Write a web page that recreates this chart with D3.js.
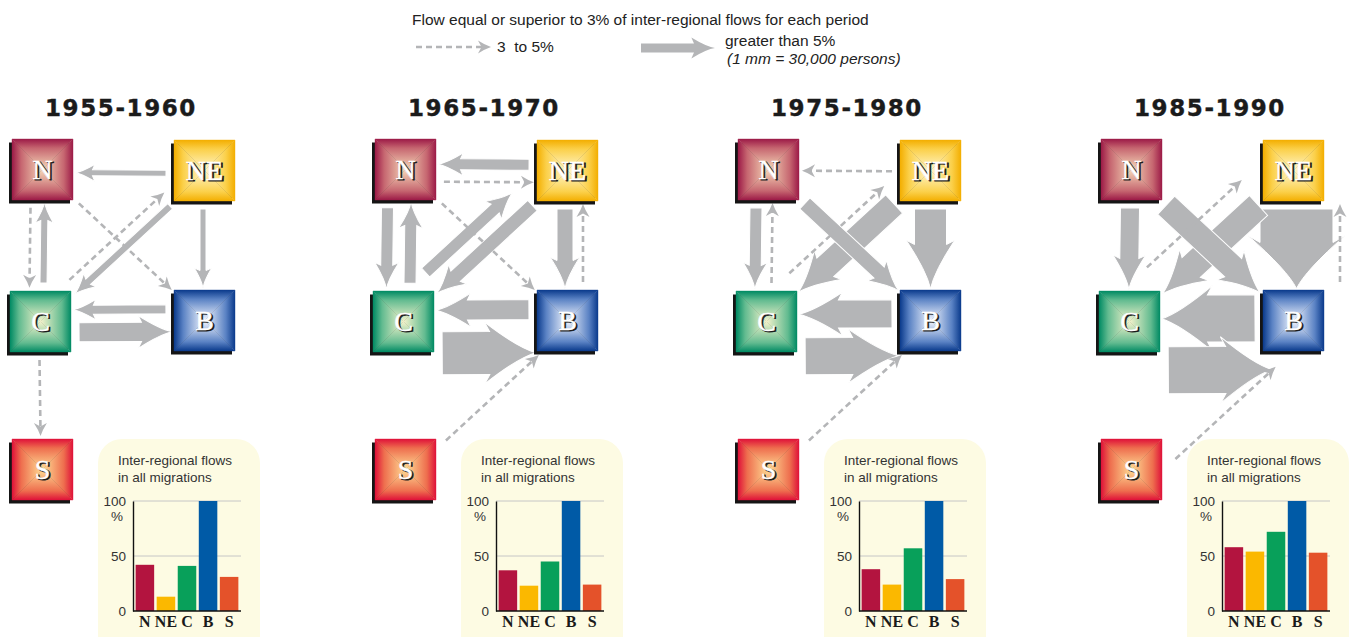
<!DOCTYPE html>
<html><head><meta charset="utf-8">
<script src="https://cdn.jsdelivr.net/npm/d3@7"></script>
<style>body{margin:0;background:#fff}svg{display:block}</style>
</head><body>
<svg id="chart" width="1353" height="637"></svg>
<script>
// ---------- DATA ----------
const regions = ["N", "NE", "C", "B", "S"];
const periods = ["1955-1960", "1965-1970", "1975-1980", "1985-1990"];
const barCategories = ["N", "NE", "C", "B", "S"];
// share of inter-regional flows in all migrations (%), by region
const share1955 = [42, 13, 41, 100, 31];
const share1965 = [37, 23, 45, 100, 24];
const share1975 = [38, 24, 57, 100, 29];
const share1985 = [58, 54, 72, 100, 53];
const yTickValues = [0, 50, 100];
// flows: [origin, destination, thousands of persons]  (null = flow of 3 to 5%)
const flows1955 = [["NE","N",75],["N","C",null],["C","N",88],["N","B",null],["C","NE",null],["NE","C",88],["NE","B",75],["B","C",112],["C","B",238],["C","S",null]];
const flows1965 = [["NE","N",138],["N","NE",null],["N","C",150],["C","N",150],["N","B",null],["C","NE",150],["NE","C",175],["NE","B",200],["B","NE",null],["B","C",250],["C","B",538],["S","B",null]];
const flows1975 = [["NE","N",null],["N","C",150],["C","N",null],["N","B",188],["C","NE",null],["NE","C",312],["NE","B",400],["B","C",350],["C","B",462],["S","B",null]];
const flows1985 = [["N","C",238],["C","NE",null],["N","B",312],["NE","C",338],["NE","B",912],["B","NE",null],["B","C",588],["C","B",588],["S","B",null]];
const legendTitle = "Flow equal or superior to 3% of inter-regional flows for each period";
const legendMinor = "3  to 5%";
const legendMajor = "greater than 5%";
const legendScale = "(1 mm = 30,000 persons)";
const insetTitle = ["Inter-regional flows", "in all migrations"];

const sharesByPeriod = [share1955, share1965, share1975, share1985];
const flowsByPeriod = [flows1955, flows1965, flows1975, flows1985];

// ---------- LAYOUT ----------
const svg = d3.select("#chart");
const arrowGray = "#b4b5b7";
const boxSize = 61;
const boxPos = {N:[12,139], NE:[174,140], C:[10,291], B:[174,290], S:[12,439]};
const boxColors = {
  N:["#9c1a47","#c66670","#f5d8b8"],
  NE:["#f3ae00","#fbd04a","#fff7cf"],
  C:["#008a63","#62bb90","#f4f3cc"],
  B:["#0a3a8c","#5a82c4","#f5f8ff"],
  S:["#df1139","#ee6e4e","#ffdd95"]
};
const barColors = {N:"#b3143f", NE:"#fbb800", C:"#08a05a", B:"#005aa6", S:"#e4522a"};
// lane: perpendicular shift of each arrow; [lane, tip extension, tail extension]
const laneLayout = [
  {"NE>N":[3],"N>C":[11.5],"C>N":[-2.5],"N>B":[0],"C>NE":[11],"NE>C":[-3],"NE>B":[1.5],"B>C":[-11.5],"C>B":[11],"C>S":[1.5]},
  {"NE>N":[-5.5],"N>NE":[12],"N>C":[17.5],"C>N":[-6],"N>B":[0],"C>NE":[21,-12],"NE>C":[-2],"NE>B":[2.5],"B>NE":[-15.5],"B>C":[-11],"C>B":[32],"S>B":[-6]},
  {"NE>N":[1],"N>C":[12],"C>N":[-4.5],"N>B":[0],"C>NE":[20],"NE>C":[0],"NE>B":[0],"B>C":[-7],"C>B":[35],"S>B":[-6]},
  {"N>C":[1],"C>NE":[28],"N>B":[2.5],"NE>C":[-2],"NE>B":[-3],"B>NE":[-46.5],"B>C":[-2.5],"C>B":[49,10],"S>B":[-22,0,10]}
];
const panelX = d3.scaleBand().domain(periods).range([0, 363 * periods.length]);
// 1 mm = 30,000 persons ; 1 mm drawn as 2.4 px
const widthScale = d3.scaleLinear().domain([0, 30]).range([0, 2.4]);

const sans = "'Liberation Sans', Arial, Helvetica, sans-serif";
const serif = "'Liberation Serif', 'Times New Roman', serif";

const defs = svg.append("defs");
const gradDirs = {top:[0,0,0,1], bottom:[0,1,0,0], left:[0,0,1,0], right:[1,0,0,0]};
regions.forEach(r => Object.entries(gradDirs).forEach(([k, v]) => {
  const g = defs.append("linearGradient").attr("id", `g-${r}-${k}`)
    .attr("x1", v[0]).attr("y1", v[1]).attr("x2", v[2]).attr("y2", v[3]);
  const c = boxColors[r];
  g.append("stop").attr("offset", "0%").attr("stop-color", c[0]);
  g.append("stop").attr("offset", "30%").attr("stop-color", c[1]);
  g.append("stop").attr("offset", "100%").attr("stop-color", c[2]);
}));

function majorPath(L, w) {
  const h = Math.min(12 + w, 46, L * 0.6);
  const b = 5 + w * 0.1, s = 2 + w * 0.07, hw = w / 2;
  return `M0,${-hw} L${L-h},${-hw} L${L-h-s},${-hw-b} Q${L-h*0.4},${-hw*0.25} ${L},0 ` +
         `Q${L-h*0.4},${hw*0.25} ${L-h-s},${hw+b} L${L-h},${hw} L0,${hw} Z`;
}
function minorHead(L) {
  return `M${L},0 Q${L-6},-2 ${L-13},-6.5 L${L-9.5},0 L${L-13},6.5 Q${L-6},2 ${L},0 Z`;
}
function center(r) { const p = boxPos[r]; return [p[0] + boxSize/2, p[1] + boxSize/2]; }
function geom(from, to, cfg, minor) {
  const [lane, tipExt = 0, tailExt = 0] = cfg;
  const a = center(from), b = center(to);
  const fwd = regions.indexOf(from) < regions.indexOf(to);
  const c0 = fwd ? a : b, c1 = fwd ? b : a;
  let cx = c1[0]-c0[0], cy = c1[1]-c0[1]; const cl = Math.hypot(cx, cy); cx /= cl; cy /= cl;
  const nx = -cy, ny = cx;
  let dx = b[0]-a[0], dy = b[1]-a[1]; const len = Math.hypot(dx, dy); dx /= len; dy /= len;
  const clip = (boxSize/2) / Math.max(Math.abs(dx), Math.abs(dy));
  const s0 = clip + 8 - tailExt, s1 = clip + (minor ? 3 : 1.5) - tipExt;
  const start = [a[0]+dx*s0+nx*lane, a[1]+dy*s0+ny*lane];
  const end = [b[0]-dx*s1+nx*lane, b[1]-dy*s1+ny*lane];
  return {start, L: Math.hypot(end[0]-start[0], end[1]-start[1]), angle: Math.atan2(dy, dx) * 180 / Math.PI};
}

// ---------- LEGEND ----------
const legend = svg.append("g").attr("font-family", sans).attr("fill", "#222");
legend.append("text").attr("x", 412).attr("y", 25).attr("font-size", 15.5).text(legendTitle);
const lgMinor = legend.append("g").attr("transform", "translate(416,47)");
lgMinor.append("path").attr("d", "M0,0 L66,0").attr("stroke", arrowGray).attr("stroke-width", 2.6).attr("stroke-dasharray", "6,4").attr("fill", "none");
lgMinor.append("path").attr("d", minorHead(75)).attr("fill", arrowGray);
legend.append("text").attr("x", 497).attr("y", 52).attr("font-size", 15.5).style("white-space", "pre").text(legendMinor);
legend.append("path").attr("transform", "translate(641,48)").attr("d", majorPath(74, 9)).attr("fill", arrowGray);
legend.append("text").attr("x", 725).attr("y", 46).attr("font-size", 15.5).text(legendMajor);
legend.append("text").attr("x", 727).attr("y", 64).attr("font-size", 15.5).attr("font-style", "italic").text(legendScale);

// ---------- PANELS ----------
periods.forEach((period, pi) => {
  const g = svg.append("g").attr("transform", `translate(${panelX(period)},0)`);
  g.append("text").attr("x", 121).attr("y", 116).attr("text-anchor", "middle")
    .attr("font-family", "'DejaVu Sans', sans-serif").attr("font-weight", "bold")
    .attr("font-size", 23).attr("letter-spacing", 1.6).attr("fill", "#1b1b1b")
    .attr("stroke", "#1b1b1b").attr("stroke-width", 0.4).text(period);

  const flows = flowsByPeriod[pi].map(([from, to, k]) => ({from, to, k}));
  const lanes = laneLayout[pi];
  const majors = flows.filter(f => f.k !== null).sort((a, b) => b.k - a.k);
  const minors = flows.filter(f => f.k === null);

  g.append("g").selectAll("path").data(majors).join("path")
    .each(function(f) {
      const gm = geom(f.from, f.to, lanes[f.from + ">" + f.to], false);
      d3.select(this).attr("transform", `translate(${gm.start[0]},${gm.start[1]}) rotate(${gm.angle})`)
        .attr("d", majorPath(gm.L, widthScale(f.k)));
    })
    .attr("fill", arrowGray).attr("stroke", "#fff").attr("stroke-width", 1);

  const mg = g.append("g").selectAll("g").data(minors).join("g")
    .attr("transform", f => {
      const gm = geom(f.from, f.to, lanes[f.from + ">" + f.to], true);
      f.L = gm.L;
      return `translate(${gm.start[0]},${gm.start[1]}) rotate(${gm.angle})`;
    });
  mg.append("path").attr("d", f => `M0,0 L${f.L - 9},0`).attr("stroke", arrowGray)
    .attr("stroke-width", 2.6).attr("stroke-dasharray", "6,4").attr("fill", "none");
  mg.append("path").attr("d", f => minorHead(f.L)).attr("fill", arrowGray);

  // boxes
  const bx = g.append("g").selectAll("g").data(regions).join("g")
    .attr("transform", r => `translate(${boxPos[r][0]},${boxPos[r][1]})`);
  bx.append("rect").attr("x", -3).attr("y", 3.5).attr("width", boxSize).attr("height", boxSize).attr("fill", "#151515");
  const s = boxSize, h = s / 2;
  const tri = {top:`M0,0 L${s},0 L${h},${h} Z`, bottom:`M0,${s} L${s},${s} L${h},${h} Z`,
               left:`M0,0 L0,${s} L${h},${h} Z`, right:`M${s},0 L${s},${s} L${h},${h} Z`};
  Object.entries(tri).forEach(([k, d]) => {
    bx.append("path").attr("d", d).attr("fill", r => `url(#g-${r}-${k})`)
      .attr("stroke", r => `url(#g-${r}-${k})`).attr("stroke-width", 0.4);
  });
  bx.append("text").attr("x", h + 1.6).attr("y", h + 10.6).attr("text-anchor", "middle")
    .attr("font-family", serif).attr("font-size", 28).attr("fill", "#1a1a1a")
    .attr("stroke", "#1a1a1a").attr("stroke-width", 0.8).text(r => r);
  bx.append("text").attr("x", h).attr("y", h + 9).attr("text-anchor", "middle")
    .attr("font-family", serif).attr("font-size", 28).attr("fill", "#fff")
    .attr("stroke", "#fff").attr("stroke-width", 0.4).text(r => r);

  // inset bar chart
  const inset = g.append("g");
  inset.append("rect").attr("x", 98).attr("y", 439).attr("width", 162).attr("height", 240)
    .attr("rx", 24).attr("fill", "#fdfbe3");
  inset.append("g").selectAll("text").data(insetTitle).join("text")
    .attr("x", 118).attr("y", (d, i) => 465 + i * 16.5).attr("font-family", sans)
    .attr("font-size", 13.5).attr("fill", "#333").text(d => d);
  const x = d3.scaleBand().domain(barCategories).range([135, 239]).paddingInner(0.12).paddingOuter(0.03);
  const y = d3.scaleLinear().domain([0, 100]).range([611, 501]);
  inset.append("g").selectAll("line").data(yTickValues.filter(v => v > 0)).join("line")
    .attr("x1", 133).attr("x2", 241).attr("y1", d => y(d)).attr("y2", d => y(d))
    .attr("stroke", "#c6c6c6").attr("stroke-width", 1);
  const vals = sharesByPeriod[pi];
  inset.append("g").selectAll("rect").data(barCategories).join("rect")
    .attr("x", d => x(d)).attr("width", x.bandwidth())
    .attr("y", (d, i) => y(vals[i])).attr("height", (d, i) => y(0) - y(vals[i]))
    .attr("fill", d => barColors[d]);
  const ya = inset.append("g").attr("transform", "translate(133,0)")
    .call(d3.axisLeft(y).tickValues(yTickValues).tickSize(0).tickSizeOuter(0).tickPadding(7));
  ya.select(".domain").attr("stroke", "#111").attr("stroke-width", 1.4);
  ya.selectAll("text").attr("font-family", sans).attr("font-size", 13.5).attr("fill", "#333");
  inset.append("text").attr("x", 117).attr("y", 521).attr("text-anchor", "middle")
    .attr("font-family", sans).attr("font-size", 13.5).attr("fill", "#333").text("%");
  inset.append("line").attr("x1", 133).attr("x2", 241).attr("y1", 611).attr("y2", 611)
    .attr("stroke", "#111").attr("stroke-width", 1.4);
  const xa = inset.append("g").attr("transform", "translate(0,611)")
    .call(d3.axisBottom(x).tickSize(0).tickPadding(5));
  xa.select(".domain").remove();
  xa.selectAll("text").attr("font-family", serif).attr("font-weight", "bold")
    .attr("font-size", 16).attr("fill", "#1a1a1a");
});
</script>
</body></html>
